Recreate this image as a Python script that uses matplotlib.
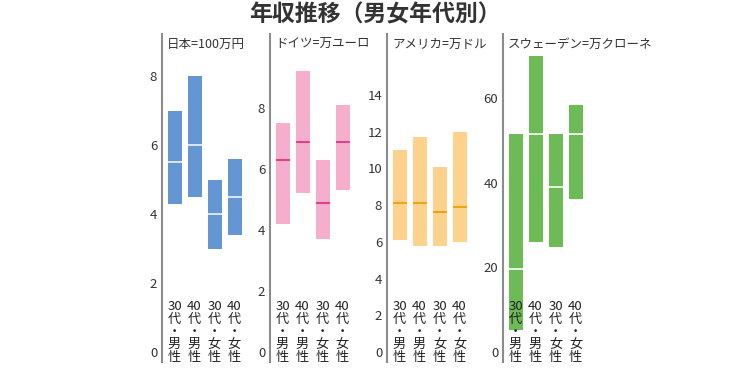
import matplotlib
matplotlib.use('Agg')
import matplotlib.pyplot as plt
import matplotlib.transforms as mtransforms

plt.rcParams['font.family'] = ['Noto Sans CJK JP', 'DejaVu Sans']

# ---------------- data ----------------
title = '年収推移（男女年代別）'
panel_titles = ['日本=100万円', 'ドイツ=万ユーロ', 'アメリカ=万ドル', 'スウェーデン=万クローネ']
categories = ['30代・男性', '40代・男性', '30代・女性', '40代・女性']

japan_low = [4.3, 4.5, 3.0, 3.4]
japan_med = [5.5, 6.0, 4.0, 4.5]
japan_high = [7.0, 8.0, 5.0, 5.6]

germany_low = [4.2, 5.2, 3.7, 5.3]
germany_med = [6.3, 6.9, 4.9, 6.9]
germany_high = [7.5, 9.2, 6.3, 8.1]

usa_low = [6.1, 5.8, 5.8, 6.0]
usa_med = [8.1, 8.1, 7.6, 7.9]
usa_high = [11.0, 11.7, 10.1, 12.0]

sweden_low = [5.2, 26.0, 24.8, 36.1]
sweden_med = [19.5, 51.5, 39.0, 51.5]
sweden_high = [51.5, 70.0, 51.5, 58.3]

japan_ticks = [0, 2, 4, 6, 8]
germany_ticks = [0, 2, 4, 6, 8]
usa_ticks = [0, 2, 4, 6, 8, 10, 12, 14]
sweden_ticks = [0, 20, 40, 60]

# ---------------- layout / style ----------------
W, H = 750, 372
fig = plt.figure(figsize=(W / 100, H / 100), dpi=100)

panels = [
    dict(low=japan_low, med=japan_med, high=japan_high, ticks=japan_ticks,
         spine=162, ref=(8, 76), bar='#6396d3', mline='#dbe7f6'),
    dict(low=germany_low, med=germany_med, high=germany_high, ticks=germany_ticks,
         spine=270, ref=(8, 108), bar='#f5afcc', mline='#e8398e'),
    dict(low=usa_low, med=usa_med, high=usa_high, ticks=usa_ticks,
         spine=387, ref=(14, 95), bar='#fdd28c', mline='#f5a00f'),
    dict(low=sweden_low, med=sweden_med, high=sweden_high, ticks=sweden_ticks,
         spine=503, ref=(60, 98), bar='#6cbb57', mline='#e9f5e4'),
]

zero_px, top_px, bot_px = 352, 34, 362
ax_w_px = 108
unit_px = 20.0
first_off_px = 12.5
text_color = '#333333'


def vertical_label(s):
    parts = []
    buf = ''
    for ch in s:
        if ch.isdigit():
            buf += ch
        else:
            if buf:
                parts.append(buf)
                buf = ''
            parts.append(ch)
    if buf:
        parts.append(buf)
    return '\n'.join(parts)


label_center_px = 332

for p, ptitle in zip(panels, panel_titles):
    left = p['spine']
    ax = fig.add_axes([left / W, 1 - bot_px / H, ax_w_px / W, (bot_px - top_px) / H])
    ref_val, ref_px = p['ref']
    s = (zero_px - ref_px) / ref_val
    ax.set_ylim(-(bot_px - zero_px) / s, (zero_px - top_px) / s)
    x0 = -first_off_px / unit_px
    ax.set_xlim(x0, x0 + ax_w_px / unit_px)

    xs = list(range(len(categories)))
    heights = [h - l for h, l in zip(p['high'], p['low'])]
    ax.bar(xs, heights, bottom=p['low'], width=0.7, color=p['bar'], zorder=2)
    ax.hlines(p['med'], [x - 0.35 for x in xs], [x + 0.35 for x in xs],
              colors=p['mline'], linewidth=1.4, zorder=3)

    for sp in ['top', 'right', 'bottom']:
        ax.spines[sp].set_visible(False)
    ax.spines['left'].set_color('#8c8c8c')
    ax.spines['left'].set_linewidth(1.5)
    ax.set_xticks([])
    ax.set_yticks(p['ticks'])
    ax.tick_params(axis='y', length=0, pad=3.5, labelsize=9.5, labelcolor=text_color)
    ax.patch.set_alpha(0)

    trans = mtransforms.blended_transform_factory(ax.transData, fig.transFigure)
    for x, cat in zip(xs, categories):
        ax.text(x, 1 - label_center_px / H, vertical_label(cat), transform=trans,
                ha='center', va='center', multialignment='center',
                fontsize=9.5, linespacing=0.98, color='#222222', zorder=5)

    fig.text((left + 5) / W, 1 - 44 / H, ptitle, ha='left', va='center',
             fontsize=9, color=text_color)

fig.text(0.5, 1 - 15 / H, title, ha='center', va='center', fontsize=16.5,
         fontweight='bold', color=text_color)

fig.savefig('out.png', dpi=100)
